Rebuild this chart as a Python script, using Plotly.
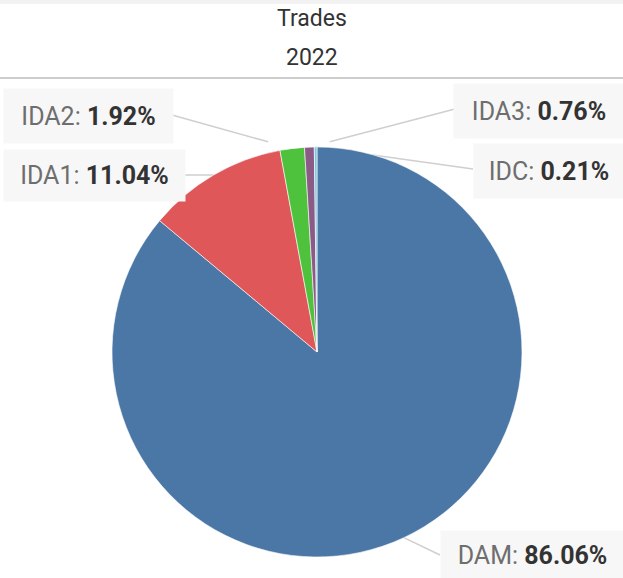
import math
import plotly.graph_objects as go

W, H = 623, 578

# ---- data ----
categories = ["DAM", "IDA1", "IDA2", "IDA3", "IDC"]
shares = [86.06, 11.04, 1.92, 0.76, 0.21]
colors = ["#4a77a5", "#e0575a", "#4ec23c", "#8b5a87", "#7cc8dc"]
title_lines = ["Trades", "2022"]

# ---- layout constants (pixels) ----
pie_box = (112, 147, 522, 557)  # left, top, right, bottom
# label boxes: left, top, right, bottom
label_boxes = {
    "DAM": (440, 530, 623, 578),
    "IDA1": (3, 149, 184, 200),
    "IDA2": (3, 88, 172, 142),
    "IDA3": (453, 83, 623, 137),
    "IDC": (473, 143, 623, 197),
}
# connector start (pixels) and how far toward the slice it reaches
conn_start = {
    "DAM": (440, 555),
    "IDA1": (184, 175),
    "IDA2": (172, 115),
    "IDA3": (455, 109),
    "IDC": (473, 169),
}
conn_reach = {"DAM": 1.0, "IDA1": 1.0, "IDA2": 0.8, "IDA3": 0.86, "IDC": 1.0}


def px(x):
    return x / W


def py(y):
    return 1 - y / H


fig = go.Figure()
fig.add_trace(go.Pie(
    labels=categories,
    values=shares,
    sort=False,
    direction="clockwise",
    rotation=0,
    marker=dict(colors=colors, line=dict(color="white", width=0.6)),
    textinfo="none",
    hoverinfo="label+percent",
    showlegend=False,
    domain=dict(x=[px(pie_box[0]), px(pie_box[2])], y=[py(pie_box[3]), py(pie_box[1])]),
))

cx = (pie_box[0] + pie_box[2]) / 2
cy = (pie_box[1] + pie_box[3]) / 2
r = (pie_box[2] - pie_box[0]) / 2
total = sum(shares)

shapes = []
annotations = []
cum = 0.0
for cat, v in zip(categories, shares):
    mid = (cum + v / 2) / total * 2 * math.pi
    cum += v
    ex = cx + r * math.sin(mid)
    ey = cy - r * math.cos(mid)
    sx, sy = conn_start[cat]
    f = conn_reach[cat]
    tx = sx + (ex - sx) * f
    ty = sy + (ey - sy) * f
    shapes.append(dict(type="line", xref="paper", yref="paper",
                       x0=px(sx), y0=py(sy), x1=px(tx), y1=py(ty),
                       line=dict(color="#cfcfcf", width=1.5), layer="below"))
    l, t, rr, b = label_boxes[cat]
    annotations.append(dict(
        xref="paper", yref="paper", x=px(l), y=py(t), xanchor="left", yanchor="top",
        width=rr - l, height=b - t, align="center", valign="middle",
        showarrow=False, bgcolor="#f7f7f7", borderpad=0,
        text=f"<span style='color:#6e6e6e'>{cat}: </span><b>{v:.2f}%</b>",
        font=dict(family="Roboto", size=25, color="#333333"),
    ))

# title lines
annotations.append(dict(xref="paper", yref="paper", x=0.5, y=py(19), xanchor="center", yanchor="middle",
                        showarrow=False, text=title_lines[0],
                        font=dict(family="Roboto", size=23, color="#333333")))
annotations.append(dict(xref="paper", yref="paper", x=0.5, y=py(58), xanchor="center", yanchor="middle",
                        showarrow=False, text=title_lines[1],
                        font=dict(family="Roboto", size=23, color="#333333")))

shapes.append(dict(type="rect", xref="paper", yref="paper", x0=0, x1=1, y0=py(4), y1=1,
                   fillcolor="#f2f2f2", line=dict(width=0), layer="below"))
shapes.append(dict(type="line", xref="paper", yref="paper", x0=0, x1=1, y0=py(78), y1=py(78),
                   line=dict(color="#cccccc", width=2)))

fig.update_layout(
    width=W, height=H,
    margin=dict(l=0, r=0, t=0, b=0),
    paper_bgcolor="white", plot_bgcolor="white",
    shapes=shapes, annotations=annotations,
)

fig.write_html("out.html", config={"displayModeBar": False},
               post_script="document.body.style.margin='0px';")
